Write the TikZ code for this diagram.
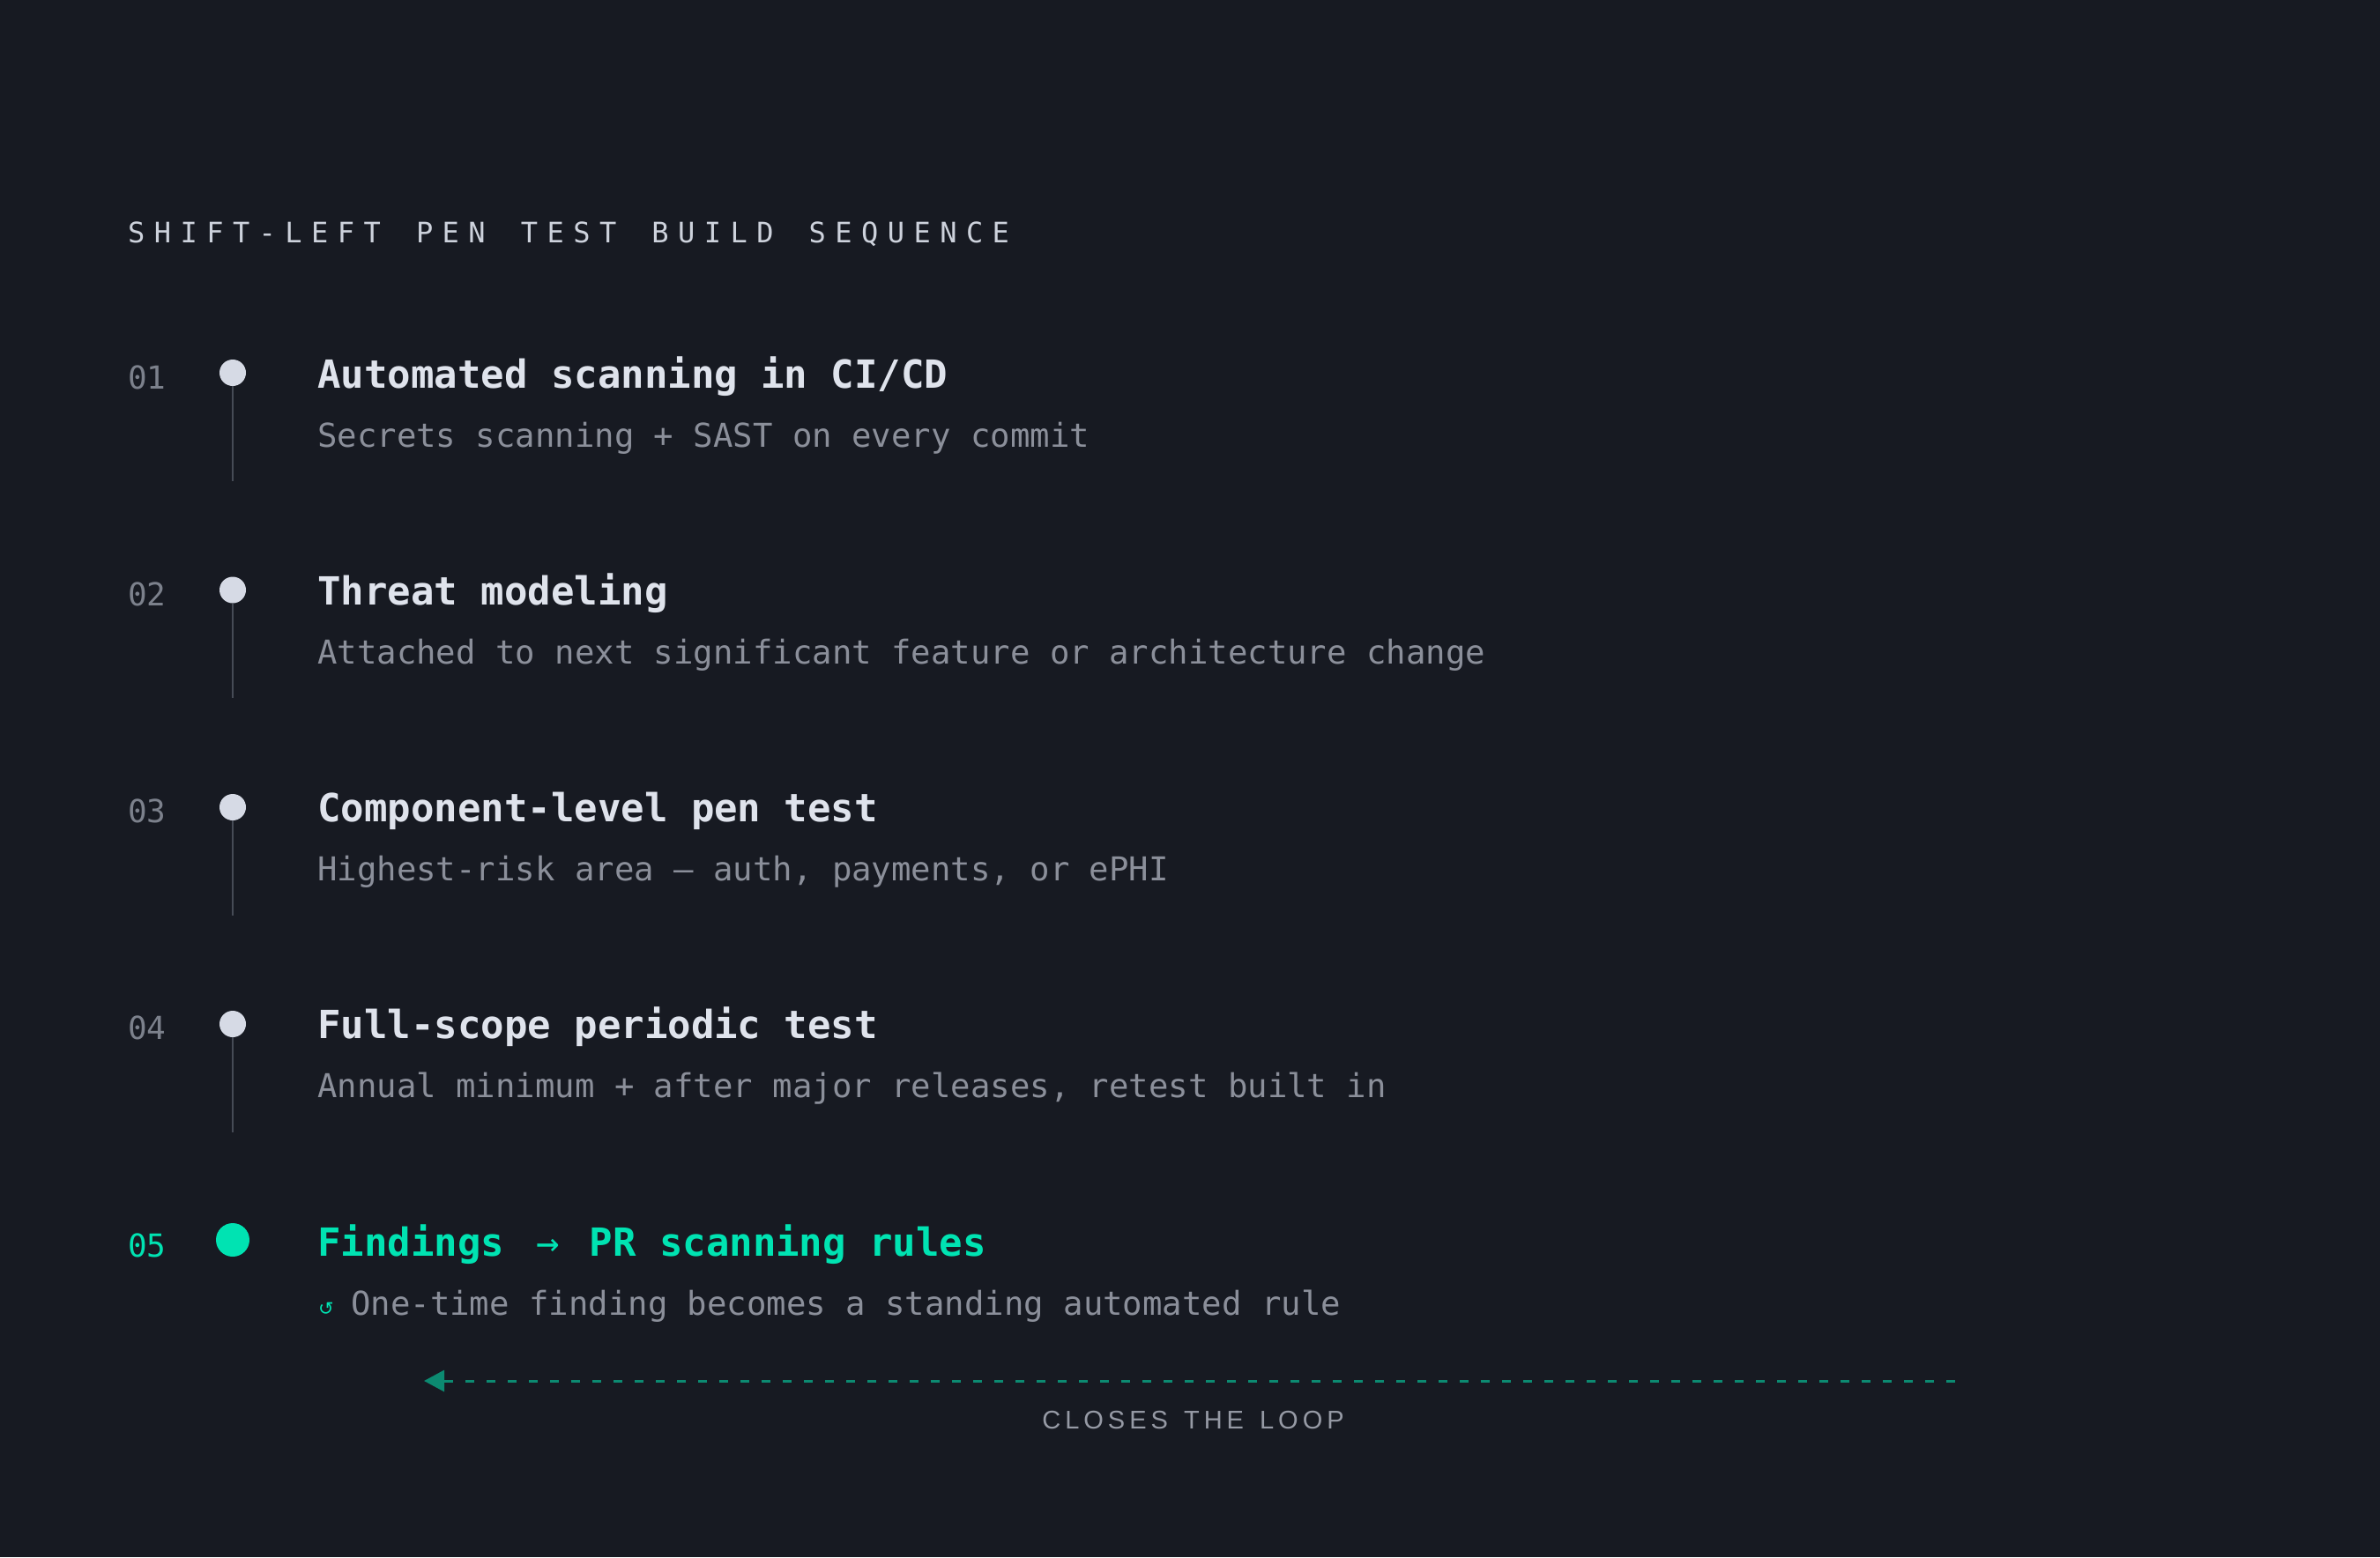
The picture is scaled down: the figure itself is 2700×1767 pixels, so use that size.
\documentclass[tikz,border=0pt]{standalone}
\usepackage{fontspec}
\usetikzlibrary{arrows.meta}
\newfontfamily\monof{DejaVu Sans Mono}
\newfontfamily\sansf{Liberation Sans}
\newfontfamily\symf{DejaVu Sans}
\definecolor{bg}{HTML}{171A22}
\definecolor{headc}{HTML}{DFE3EC}
\definecolor{subc}{HTML}{8B8F9A}
\definecolor{numc}{HTML}{7C818C}
\definecolor{titlec}{HTML}{CDD2DC}
\definecolor{dotc}{HTML}{D6DAE5}
\definecolor{stemc}{HTML}{464B56}
\definecolor{teal}{HTML}{00E3B2}
\definecolor{loopc}{HTML}{0C8A71}
\definecolor{loopt}{HTML}{969AA5}
\makeatletter
\def\trk#1#2{\def\trk@s{#1}\trk@a#2\trk@end}
\def\trk@a#1{\ifx#1\trk@end\else#1\kern\trk@s\relax\expandafter\trk@a\fi}
\makeatother
\newcommand\fTitle{\monof\fontsize{32pt}{38pt}\selectfont}
\newcommand\fNum{\monof\fontsize{36pt}{41pt}\selectfont}
\newcommand\fHead{\monof\bfseries\fontsize{44pt}{50pt}\selectfont}
\newcommand\fSub{\monof\fontsize{37.3pt}{44pt}\selectfont}
\newcommand\fLoop{\sansf\fontsize{29pt}{34pt}\selectfont}
\newcommand\fIcon{\symf\fontsize{21pt}{24pt}\selectfont}
\tikzset{
  num/.style={anchor=base west, inner sep=0pt, font=\fNum, text=numc},
  head/.style={anchor=base west, inner sep=0pt, font=\fHead, text=headc},
  subt/.style={anchor=base west, inner sep=0pt, font=\fSub, text=subc},
  dotn/.style={circle, fill=dotc, minimum size=30pt, inner sep=0pt},
  stem/.style={draw=stemc, line width=2.7pt},
}
\begin{document}
\begin{tikzpicture}[x=1pt,y=-1pt]
\useasboundingbox (0,0) rectangle (2700,1767);
\fill[bg] (0,0) rectangle (2700,1767);
\node[anchor=base west, inner sep=0pt, font=\fTitle, text=titlec] (title) at (145,275)
  {\trk{10.45pt}{SHIFT-LEFT\ PEN\ TEST\ BUILD\ SEQUENCE}};
% row 1
\node[num] (n1) at (145,441) {01};
\node[dotn] (d1) at (264,423) {};
\coordinate (s1) at (264,546);
\draw[stem] (d1.south) -- (s1);
\node[head] (h1) at (360,440) {Automated scanning in CI/CD};
\node[subt] (b1) at (360,507) {Secrets scanning + SAST on every commit};
% row 2
\node[num] (n2) at (145,687) {02};
\node[dotn] (d2) at (264,669.5) {};
\coordinate (s2) at (264,792);
\draw[stem] (d2.south) -- (s2);
\node[head] (h2) at (360,686) {Threat modeling};
\node[subt] (b2) at (360,753) {Attached to next significant feature or architecture change};
% row 3
\node[num] (n3) at (145,933.5) {03};
\node[dotn] (d3) at (264,916) {};
\coordinate (s3) at (264,1038.5);
\draw[stem] (d3.south) -- (s3);
\node[head] (h3) at (360,932.5) {Component-level pen test};
\node[subt] (b3) at (360,999.5) {Highest-risk area — auth, payments, or ePHI};
% row 4
\node[num] (n4) at (145,1179.6) {04};
\node[dotn] (d4) at (264,1162) {};
\coordinate (s4) at (264,1284.6);
\draw[stem] (d4.south) -- (s4);
\node[head] (h4) at (360,1178.6) {Full-scope periodic test};
\node[subt] (b4) at (360,1245.6) {Annual minimum + after major releases, retest built in};
% row 5
\node[num, text=teal] (n5) at (145,1426) {05};
\node[dotn, fill=teal, minimum size=38pt] (d5) at (264,1407) {};
\node[head, text=teal] (h5) at (360,1425) {Findings \kern10pt{\mdseries→}\kern7pt{} PR scanning rules};
\node[anchor=base west, inner sep=0pt, font=\fIcon, text=teal] (ic) at (361,1492) {↺};
\node[subt] (b5) at (398,1492) {One-time finding becomes a standing automated rule};
% loop arrow
\coordinate (loopR) at (2218,1567);
\coordinate (loopL) at (481,1567);
\draw[loopc, line width=3pt, dash pattern=on 10pt off 14pt,
  -{Triangle[length=23pt,width=24pt]}] (loopR) -- (loopL);
\node[anchor=base, inner sep=0pt, font=\fLoop, text=loopt] (loopl) at (1356,1621)
  {\trk{5pt}{CLOSES\ THE\ LOOP}};
\end{tikzpicture}
\end{document}
